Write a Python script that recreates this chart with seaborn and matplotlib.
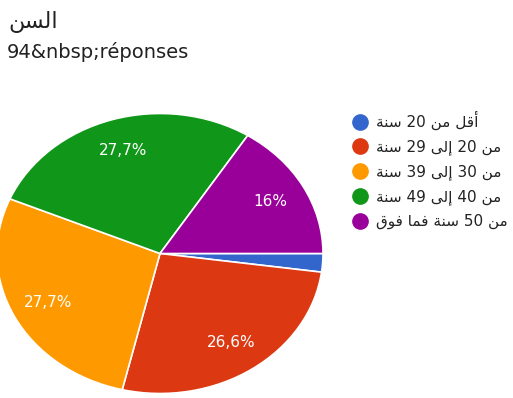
import re
import matplotlib
matplotlib.use("Agg")
import matplotlib.pyplot as plt
from matplotlib.lines import Line2D
import seaborn as sns

# ---- data ----
title_text = "السن"
subtitle_text = "94&nbsp;réponses"
categories = ["أقل من 20 سنة", "من 20 إلى 29 سنة", "من 30 إلى 39 سنة",
              "من 40 إلى 49 سنة", "من 50 سنة فما فوق"]
counts = [2, 25, 26, 26, 15]
colors = ["#3366cc", "#dc3912", "#ff9900", "#109618", "#990099"]

# ---- minimal Arabic shaping (matplotlib has no complex text layout) ----
FORMS = {
    'ا': ('\uFE8D', '\uFE8E', None, None),
    'أ': ('\uFE83', '\uFE84', None, None),
    'إ': ('\uFE87', '\uFE88', None, None),
    'و': ('\uFEED', '\uFEEE', None, None),
    'ة': ('\uFE93', '\uFE94', None, None),
    'ى': ('\uFEEF', '\uFEF0', '\uFBE8', '\uFBE9'),
    'ل': ('\uFEDD', '\uFEDE', '\uFEDF', '\uFEE0'),
    'س': ('\uFEB1', '\uFEB2', '\uFEB3', '\uFEB4'),
    'ن': ('\uFEE5', '\uFEE6', '\uFEE7', '\uFEE8'),
    'ق': ('\uFED5', '\uFED6', '\uFED7', '\uFED8'),
    'م': ('\uFEE1', '\uFEE2', '\uFEE3', '\uFEE4'),
    'ف': ('\uFED1', '\uFED2', '\uFED3', '\uFED4'),
}


def shape(s):
    out = []
    for i, c in enumerate(s):
        if c not in FORMS:
            out.append(c)
            continue
        f = FORMS[c]
        prev = s[i - 1] if i > 0 else ''
        nxt = s[i + 1] if i + 1 < len(s) else ''
        jp = prev in FORMS and FORMS[prev][2] is not None
        jn = nxt in FORMS and f[2] is not None
        if jp and jn:
            out.append(f[3])
        elif jp:
            out.append(f[1])
        elif jn:
            out.append(f[2])
        else:
            out.append(f[0])
    tokens = re.findall(r'\d+|\D', ''.join(out))
    return ''.join(reversed(tokens))


def pct_fmt(p):
    if p < 5:
        return ''
    r = round(p, 1)
    if abs(r - round(r)) < 1e-9:
        return f"{int(round(r))}%"
    return f"{r:.1f}".replace('.', ',') + '%'


sns.set_theme(style="white")
FAM = ["DejaVu Sans"]
plt.rcParams['font.family'] = FAM

W, H = 513, 398
fig = plt.figure(figsize=(W / 100, H / 100), dpi=100)
fig.patch.set_facecolor("white")

# pie geometry in pixels: centre (160, 253.5), rx 163, ry 140
cx, cy, rx, ry = 160, 253.5, 163, 140
ax = fig.add_axes([(cx - rx) / W, (H - cy - ry) / H, 2 * rx / W, 2 * ry / H])
wedges, texts, autotexts = ax.pie(
    counts, colors=colors, startangle=0, counterclock=False,
    autopct=pct_fmt, pctdistance=0.77,
    wedgeprops=dict(edgecolor="white", linewidth=1.2),
    textprops=dict(color="white", fontsize=11, family=FAM))
ax.set_aspect('auto')
ax.set_xlim(-1, 1)
ax.set_ylim(-1, 1)
ax.axis('off')

fig.text(8 / W, 1 - 28 / H, shape(title_text), fontsize=16, color="#212121",
         family=FAM, ha='left', va='baseline')
fig.text(7 / W, 1 - 58 / H, subtitle_text, fontsize=14, color="#212121",
         family=FAM, ha='left', va='baseline')

handles = [Line2D([0], [0], marker='o', linestyle='none', markersize=11,
                  markerfacecolor=c, markeredgecolor=c) for c in colors]
fig.legend(handles, [shape(c) for c in categories], loc='upper left',
           bbox_to_anchor=(352 / W, 1 - 111 / H), frameon=False,
           prop=dict(family=FAM, size=11), labelcolor="#222222",
           handlelength=1.0, handletextpad=0.55, labelspacing=0.6,
           borderaxespad=0, borderpad=0)

fig.savefig("out.png", dpi=100, facecolor="white")
